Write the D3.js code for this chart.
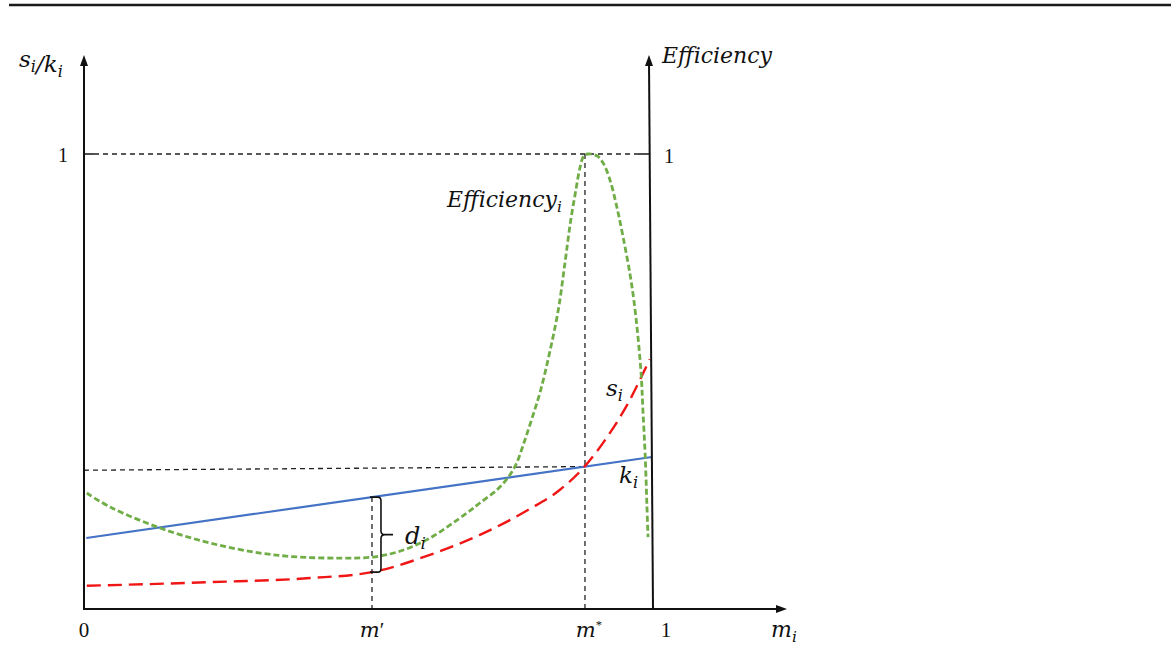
<!DOCTYPE html>
<html><head><meta charset="utf-8">
<script src="https://cdn.jsdelivr.net/npm/d3@7"></script>
<style>body{margin:0;background:#fff} svg{display:block;background:#fff}</style>
</head><body><svg id="c" width="1171" height="661"></svg>
<script>
// ---- data (model units: x = m_i in [0,1], y = s_i/k_i or Efficiency in [0,1]) ----
const mPrime = 0.507;
const mStar = 0.882;
const kLine = [[0.004, 0.156], [1.0, 0.334]];
const sCurve = [[0.005,0.051],[0.222,0.059],[0.398,0.068],[0.507,0.081],[0.609,0.119],[0.697,0.163],[0.785,0.220],[0.838,0.262],[0.882,0.314],[0.921,0.378],[0.956,0.448],[0.996,0.549]];
const effCurve = [[0.005,0.255],[0.046,0.224],[0.134,0.178],[0.222,0.145],[0.310,0.123],[0.380,0.114],[0.451,0.112],[0.507,0.114],[0.556,0.127],[0.609,0.156],[0.674,0.211],[0.697,0.233],[0.727,0.262],[0.746,0.288],[0.761,0.319],[0.775,0.367],[0.789,0.420],[0.804,0.481],[0.820,0.565],[0.835,0.657],[0.847,0.763],[0.857,0.855],[0.866,0.921],[0.873,0.969],[0.880,0.996],[0.887,1.0],[0.903,0.996],[0.914,0.980],[0.926,0.943],[0.938,0.884],[0.949,0.818],[0.961,0.738],[0.968,0.679],[0.975,0.602],[0.981,0.514],[0.984,0.437],[0.988,0.338],[0.991,0.229],[0.993,0.158]];
const refLevel = [[0, 0.305], [mStar, 0.313]];
const xTickValues = [0, mPrime, mStar, 1];
const xTickLabels = [[["0","n"]], [["m","i"],["′","n"]], [["m","i"],["*","sup"]], [["1","n"]]];
const yTickValues = [1];
const yTickLabels = ["1"];

// ---- scales ----
const svg = d3.select("#c");
const x = d3.scaleLinear().domain([0, 1]).range([84, 652]);
const y = d3.scaleLinear().domain([0, 1]).range([609, 154]);
const kAt = v => kLine[0][1] + (kLine[1][1]-kLine[0][1])*(v-kLine[0][0])/(kLine[1][0]-kLine[0][0]);
const sAt = v => { for (let i=1;i<sCurve.length;i++){ if (v<=sCurve[i][0]){const a=sCurve[i-1],b=sCurve[i];return a[1]+(b[1]-a[1])*(v-a[0])/(b[0]-a[0]);}} return sCurve[sCurve.length-1][1]; };

const serifI = "'DejaVu Serif', serif";
const numFont = "'Liberation Serif', 'Times New Roman', serif";

// top rule
svg.append("line").attr("x1", 9).attr("x2", 1171).attr("y1", 5).attr("y2", 5)
  .attr("stroke", "#1a1a1a").attr("stroke-width", 2.5);

const dashBlack = g => g.attr("stroke", "#222").attr("stroke-width", 1.3).attr("stroke-dasharray", "5,4").attr("fill", "none");

// dashed guide at y = 1
svg.append("line").attr("x1", x(0)+10).attr("x2", x(1)-14).attr("y1", y(1)).attr("y2", y(1)).call(dashBlack);
svg.append("line").attr("x1", x(0)).attr("x2", x(0)+10).attr("y1", y(1)).attr("y2", y(1)).attr("stroke","#222").attr("stroke-width",1.6);
svg.append("line").attr("x1", x(1)-14).attr("x2", x(1)-2).attr("y1", y(1)).attr("y2", y(1)).attr("stroke","#222").attr("stroke-width",1.6);

// dashed horizontal at k(m*)
svg.append("line").attr("x1", x(refLevel[0][0])).attr("x2", x(refLevel[1][0]))
  .attr("y1", y(refLevel[0][1])).attr("y2", y(refLevel[1][1])).call(dashBlack);
// vertical at m*
svg.append("line").attr("x1", x(mStar)).attr("x2", x(mStar)).attr("y1", y(1)).attr("y2", y(0)).call(dashBlack);
// vertical at m'
svg.append("line").attr("x1", x(mPrime)).attr("x2", x(mPrime)).attr("y1", y(kAt(mPrime))).attr("y2", y(0)).call(dashBlack);

// curves
const line = d3.line().x(d => x(d[0])).y(d => y(d[1])).curve(d3.curveMonotoneX);
svg.append("path").datum(kLine).attr("d", d3.line().x(d=>x(d[0])).y(d=>y(d[1])))
  .attr("fill","none").attr("stroke","#4472C4").attr("stroke-width",2.2);
svg.append("path").datum(sCurve).attr("d", line)
  .attr("fill","none").attr("stroke","#F01616").attr("stroke-width",2.4).attr("stroke-dasharray","14,7");
svg.append("path").datum(effCurve).attr("d", d3.line().x(d=>x(d[0])).y(d=>y(d[1])).curve(d3.curveCatmullRom.alpha(0.5)))
  .attr("fill","none").attr("stroke","#70AD47").attr("stroke-width",2.8).attr("stroke-dasharray","6,3");

// bracket d_i
{
  const xb = x(mPrime) + 9, top = y(kAt(mPrime)), bot = y(sAt(mPrime)), mid = (top+bot)/2;
  const p = `M${xb-11},${top} L${xb-3},${top} Q${xb},${top} ${xb},${top+4} L${xb},${mid-4} Q${xb},${mid} ${xb+4},${mid} L${xb+12},${mid} M${xb+4},${mid} Q${xb},${mid} ${xb},${mid+4} L${xb},${bot-4} Q${xb},${bot} ${xb-3},${bot} L${xb-11},${bot}`;
  svg.append("path").attr("d", p).attr("fill","none").attr("stroke","#111").attr("stroke-width",1.6);
}

// axes
const ax = "#111";
svg.append("line").attr("x1", x(0)).attr("x2", x(0)).attr("y1", y(0)+1).attr("y2", 62).attr("stroke", ax).attr("stroke-width", 2);
svg.append("path").attr("d", `M${x(0)},55 L${x(0)-4},66 L${x(0)+4},66 Z`).attr("fill", ax);
svg.append("line").attr("x1", x(1)+1).attr("x2", x(1)-3).attr("y1", y(0)).attr("y2", 62).attr("stroke", ax).attr("stroke-width", 2);
svg.append("path").attr("d", `M${x(1)-3},55 L${x(1)-7},66 L${x(1)+1},66 Z`).attr("fill", ax);
svg.append("line").attr("x1", x(0)-1).attr("x2", 780).attr("y1", y(0)).attr("y2", y(0)).attr("stroke", ax).attr("stroke-width", 2);
svg.append("path").attr("d", `M787,${y(0)} L776,${y(0)-4} L776,${y(0)+4} Z`).attr("fill", ax);

// rich label helper
function rich(px, py, parts, size, anchor) {
  const t = svg.append("text").attr("x", px).attr("y", py).attr("font-size", size)
    .attr("fill", "#111").attr("text-anchor", anchor || "start");
  parts.forEach(([s, kind]) => {
    const ts = t.append("tspan").text(s);
    if (kind === "i") ts.attr("font-family", serifI).attr("font-style", "italic");
    else if (kind === "n") ts.attr("font-family", numFont);
    else if (kind === "sub") ts.attr("font-family", serifI).attr("font-style", "italic").attr("font-size", size*0.7).attr("dy", size*0.22);
    else if (kind === "sup") ts.attr("font-family", numFont).attr("font-size", size*0.6).attr("dy", -size*0.4);
  });
  return t;
}

// tick labels
xTickValues.forEach((v, i) => {
  const dx = v === 1 ? 14 : (v === mStar ? 4 : 0);
  rich(x(v) + dx, 637, xTickLabels[i], 21, "middle");
});
rich(784, 637, [["m","i"],["i","sub"]], 22, "middle");
yTickValues.forEach((v, i) => {
  rich(x(0) - 16, y(v) + 8, [[yTickLabels[i], "n"]], 20, "end");
  rich(x(1) + 12, y(v) + 9, [[yTickLabels[i], "n"]], 20, "start");
});

// axis titles and curve labels
rich(19, 67, [["s","i"],["i","sub"],["/k","i"],["i","sub"]], 23);
rich(662, 63, [["Efficiency","i"]], 22);
rich(447, 207, [["Efficiency","i"],["i","sub"]], 22);
rich(606, 396, [["s","i"],["i","sub"]], 23);
rich(619, 483, [["k","i"],["i","sub"]], 23);
rich(405, 544, [["d","i"],["i","sub"]], 24);
</script>
</body></html>
